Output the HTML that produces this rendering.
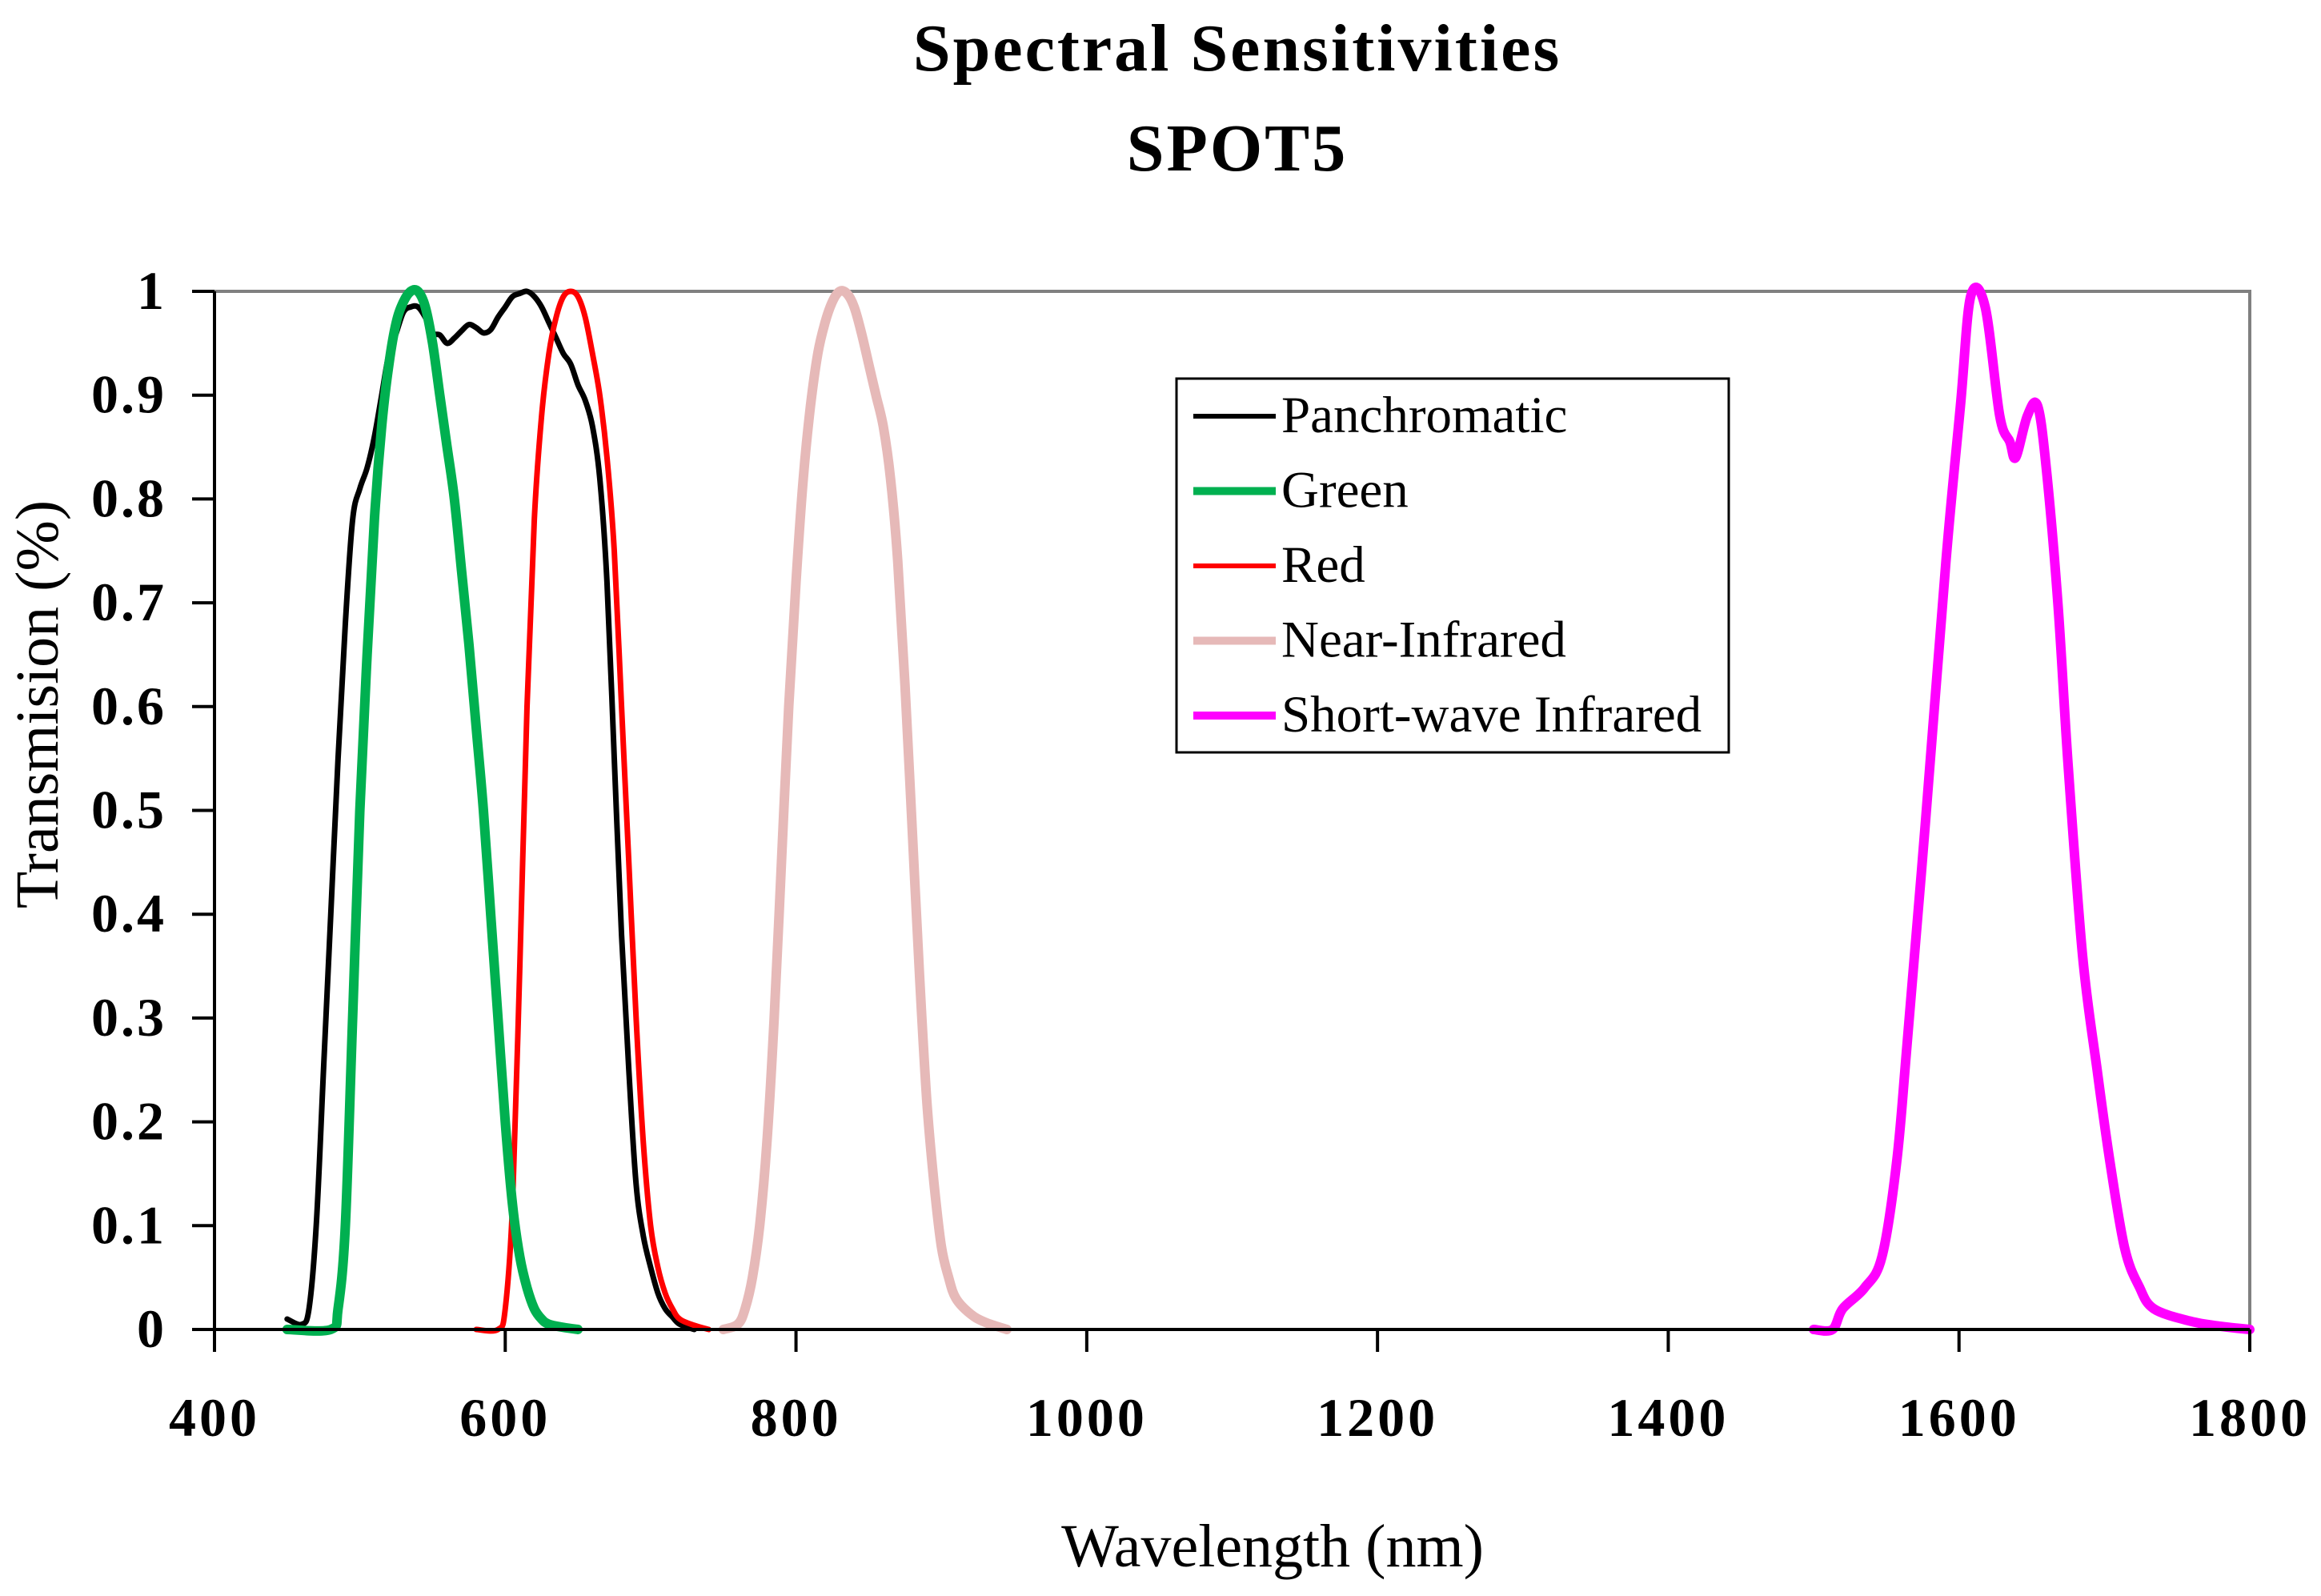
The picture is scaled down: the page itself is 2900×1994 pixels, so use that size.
<!DOCTYPE html>
<html><head><meta charset="utf-8"><style>
html,body{margin:0;padding:0;background:#fff;}
svg{display:block;font-family:"Liberation Serif","DejaVu Serif",serif;}
</style></head><body>
<svg id="chart" width="2900" height="1994" viewBox="0 0 2900 1994">
<text x="1546" y="88" text-anchor="middle" font-size="84" font-weight="bold" letter-spacing="3">Spectral Sensitivities</text>
<text x="1546" y="213" text-anchor="middle" font-size="84" font-weight="bold" letter-spacing="3">SPOT5</text>
<g id="plot"></g>
<text x="1590" y="1957" text-anchor="middle" font-size="76">Wavelength (nm)</text>
<text transform="translate(72,880) rotate(-90)" text-anchor="middle" font-size="76">Transmision (%)</text>
</svg>
<script>
const xTicks=[400,600,800,1000,1200,1400,1600,1800];
const yTicks=[0,0.1,0.2,0.3,0.4,0.5,0.6,0.7,0.8,0.9,1];
const yTickLabels=["0","0.1","0.2","0.3","0.4","0.5","0.6","0.7","0.8","0.9","1"];
const panWl=[450,460,465,470,475,480,485,490,495,500,505,510,515,520,525,530,535,540,545,550,555,560,565,570,575,580,585,590,595,600,605,610,615,620,625,630,635,640,645,650,655,660,665,670,675,680,685,690,695,700,705,710,715,720,730];
const panVal=[0.01,0.005,0.02,0.1,0.25,0.4,0.55,0.68,0.78,0.81,0.83,0.86,0.9,0.94,0.96,0.98,0.985,0.985,0.975,0.96,0.958,0.95,0.955,0.962,0.968,0.965,0.96,0.963,0.975,0.985,0.995,0.998,1.0,0.995,0.985,0.97,0.955,0.94,0.93,0.91,0.895,0.87,0.82,0.72,0.55,0.38,0.25,0.14,0.09,0.06,0.035,0.02,0.012,0.005,0];
const greenWl=[450,480,485,490,495,500,505,510,515,520,525,530,535,540,545,550,555,560,565,570,575,580,585,590,595,600,605,610,615,620,625,630,640,650];
const greenVal=[0,0,0.02,0.1,0.3,0.5,0.65,0.78,0.87,0.93,0.97,0.99,1.0,1.0,0.985,0.95,0.9,0.85,0.8,0.73,0.66,0.58,0.5,0.4,0.3,0.2,0.12,0.07,0.04,0.02,0.01,0.005,0.002,0];
const redWl=[580,595,600,605,610,615,620,625,630,635,640,645,650,655,660,665,670,675,680,685,690,695,700,705,710,715,720,730,740];
const redVal=[0,0,0.02,0.12,0.35,0.6,0.78,0.88,0.94,0.975,0.995,1.0,0.995,0.975,0.94,0.9,0.84,0.75,0.6,0.45,0.3,0.18,0.1,0.06,0.035,0.02,0.01,0.004,0];
const nirWl=[750,760,765,770,775,780,785,790,795,800,805,810,815,820,825,830,835,840,845,850,855,860,865,870,875,880,885,890,895,900,905,910,920,930,945];
const nirVal=[0,0.005,0.02,0.05,0.1,0.18,0.3,0.45,0.6,0.72,0.82,0.89,0.94,0.97,0.99,1.0,0.998,0.985,0.96,0.93,0.9,0.87,0.82,0.74,0.62,0.48,0.34,0.22,0.14,0.08,0.05,0.03,0.015,0.007,0];
const swirWl=[1500,1513,1520,1535,1547,1557,1564,1577,1591,1601,1608,1618,1628,1635,1639,1647,1654,1660,1668,1675,1685,1695,1704,1714,1724,1734,1759,1780,1800];
const swirVal=[0,0,0.02,0.04,0.07,0.16,0.27,0.49,0.74,0.89,0.995,0.985,0.88,0.855,0.84,0.88,0.89,0.83,0.70,0.545,0.36,0.25,0.16,0.078,0.041,0.02,0.008,0.003,0];
const seriesNames=["Panchromatic","Green","Red","Near-Infrared","Short-wave Infrared"];

const NS="http://www.w3.org/2000/svg";
const X0=268,X1=2811,YT=364,YB=1661;
const xs=v=>X0+(v-400)/(1800-400)*(X1-X0);
const ys=v=>YB-v*(YB-YT);
const plot=document.getElementById('plot');
function mk(tag,attrs){const e=document.createElementNS(NS,tag);for(const k in attrs)e.setAttribute(k,attrs[k]);plot.appendChild(e);return e;}
function smooth(pts){
  let d='M'+pts[0][0].toFixed(1)+','+pts[0][1].toFixed(1);
  for(let i=0;i<pts.length-1;i++){
    const p0=pts[Math.max(0,i-1)],p1=pts[i],p2=pts[i+1],p3=pts[Math.min(pts.length-1,i+2)];
    const c1x=p1[0]+(p2[0]-p0[0])/6,c1y=p1[1]+(p2[1]-p0[1])/6;
    const c2x=p2[0]-(p3[0]-p1[0])/6,c2y=p2[1]-(p3[1]-p1[1])/6;
    d+=`C${c1x.toFixed(1)},${c1y.toFixed(1)} ${c2x.toFixed(1)},${c2y.toFixed(1)} ${p2[0].toFixed(1)},${p2[1].toFixed(1)}`;
  }
  return d;
}

let fr=mk('path',{d:`M${X0},${YT}H${X1}V${YB}`,fill:'none',stroke:'#808080','stroke-width':4});



const styles=[['#000',7],['#00b050',12],['#ff0000',7],['#e6b9b8',12],['#ff00ff',12]];
const datasets=[[panWl,panVal],[greenWl,greenVal],[redWl,redVal],[nirWl,nirVal],[swirWl,swirVal]];
const drawOrder=[3,4,0,2,1];
const ids=['panchromatic','green','red','near-infrared','short-wave-infrared'];
drawOrder.forEach(i=>{
  const [w,v]=datasets[i];
  const pts=w.map((x,j)=>[xs(x),ys(v[j])]);
  const p=mk('path',{d:smooth(pts),fill:'none',stroke:styles[i][0],'stroke-width':styles[i][1],'stroke-linejoin':'round','stroke-linecap':'round'});
  
  
});

let ax=mk('path',{d:`M${X0},${YT}V${YB}H${X1}`,fill:'none',stroke:'#000','stroke-width':4});



yTicks.forEach((t,i)=>{
  const y=ys(t);
  const l=mk('line',{x1:X0-28,x2:X0,y1:y,y2:y,stroke:'#000','stroke-width':4});
  
  
  const tx=mk('text',{x:208,y:y+22,'text-anchor':'end','font-size':68,'font-weight':'bold','letter-spacing':3});
  tx.textContent=yTickLabels[i];
  
  
});
xTicks.forEach(t=>{
  const x=xs(t);
  const l=mk('line',{x1:x,x2:x,y1:YB,y2:YB+28,stroke:'#000','stroke-width':4});
  
  
  const tx=mk('text',{x:x,y:1794,'text-anchor':'middle','font-size':68,'font-weight':'bold','letter-spacing':4});
  tx.textContent=String(t);
  
  
});

const lb=mk('rect',{x:1470,y:473,width:690,height:467,fill:'#fff',stroke:'#000','stroke-width':3});


seriesNames.forEach((n,i)=>{
  const y=520+i*93.5;
  const l=mk('line',{x1:1491,x2:1594,y1:y,y2:y,stroke:styles[i][0],'stroke-width':i===0||i===2?6:10});
  
  
  const t=mk('text',{x:1601,y:y+20,'font-size':65});
  t.textContent=n;
  
  
});
</script>
</body></html>
